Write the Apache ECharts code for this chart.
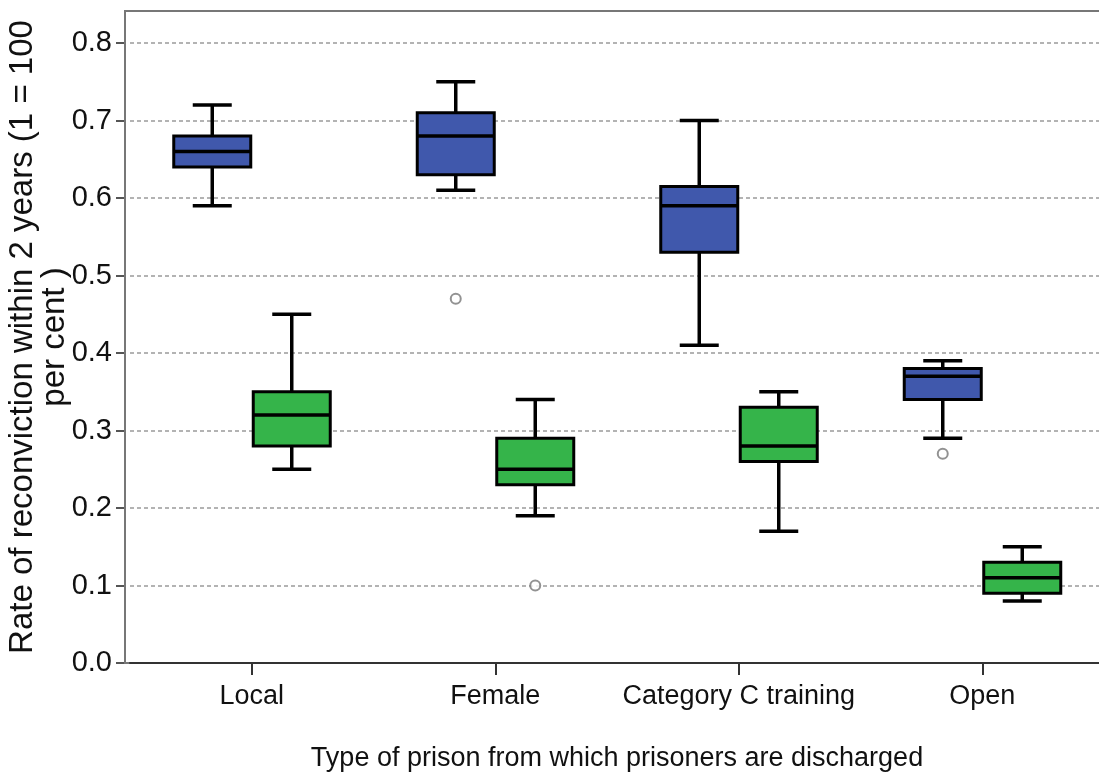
<!DOCTYPE html>
<html>
<head>
<meta charset="utf-8">
<script src="https://cdn.jsdelivr.net/npm/echarts@6/dist/echarts.min.js"></script>
<style>
html,body{margin:0;padding:0;background:#fff;}
#chart{width:1099px;height:780px;}
</style>
</head>
<body>
<div id="chart"></div>
<script>
// ---- data ----
const categories = ['Local', 'Female', 'Category C training', 'Open'];
// [min, q1, median, q3, max]
const firstGroupStats = [
  [0.59, 0.64, 0.66, 0.68, 0.72],
  [0.61, 0.63, 0.68, 0.71, 0.75],
  [0.41, 0.53, 0.59, 0.615, 0.70],
  [0.29, 0.34, 0.37, 0.38, 0.39]
];
const secondGroupStats = [
  [0.25, 0.28, 0.32, 0.35, 0.45],
  [0.19, 0.23, 0.25, 0.29, 0.34],
  [0.17, 0.26, 0.28, 0.33, 0.35],
  [0.08, 0.09, 0.11, 0.13, 0.15]
];
// [category index, value]
const firstGroupOutliers = [[1, 0.47], [3, 0.27]];
const secondGroupOutliers = [[1, 0.10]];
const yTicks = [0, 0.1, 0.2, 0.3, 0.4, 0.5, 0.6, 0.7, 0.8];

// ---- styles ----
const BLUE = '#4058ac';
const GREEN = '#35b44a';
const BOX_W = 77;
const CAP_W = 39;
const LW = 3.5;
const OFF_BLUE = -39.5;
const OFF_GREEN = 40;

function boxRenderer(offset, color) {
  return function (params, api) {
    const c = api.value(0);
    const pMin = api.coord([c, api.value(1)]);
    const pQ1 = api.coord([c, api.value(2)]);
    const pMed = api.coord([c, api.value(3)]);
    const pQ3 = api.coord([c, api.value(4)]);
    const pMax = api.coord([c, api.value(5)]);
    const cx = pMin[0] + offset;
    const ls = { stroke: '#000', lineWidth: LW };
    return {
      type: 'group',
      children: [
        { type: 'line', shape: { x1: cx, y1: pQ3[1], x2: cx, y2: pMax[1] }, style: ls },
        { type: 'line', shape: { x1: cx, y1: pQ1[1], x2: cx, y2: pMin[1] }, style: ls },
        { type: 'line', shape: { x1: cx - CAP_W / 2, y1: pMax[1], x2: cx + CAP_W / 2, y2: pMax[1] }, style: ls },
        { type: 'line', shape: { x1: cx - CAP_W / 2, y1: pMin[1], x2: cx + CAP_W / 2, y2: pMin[1] }, style: ls },
        { type: 'rect', shape: { x: cx - BOX_W / 2, y: pQ3[1], width: BOX_W, height: pQ1[1] - pQ3[1] },
          style: { fill: color, stroke: '#000', lineWidth: 3 } },
        { type: 'line', shape: { x1: cx - BOX_W / 2, y1: pMed[1], x2: cx + BOX_W / 2, y2: pMed[1] }, style: ls }
      ]
    };
  };
}

const chart = echarts.init(document.getElementById('chart'), null, { renderer: 'canvas' });
const mainFont = "'Liberation Sans', Arial, sans-serif";

chart.setOption({
  backgroundColor: '#fff',
  animation: false,
  grid: { left: 130, right: -5, top: 11, bottom: 117, containLabel: false, outerBoundsMode: 'none' },
  graphic: [{
    type: 'rect', silent: true, z: 0,
    shape: { x: 125, y: 11, width: 1000, height: 652 },
    style: { fill: 'none', stroke: '#777', lineWidth: 2 }
  }],
  xAxis: {
    type: 'category',
    data: categories,
    boundaryGap: true,
    axisLine: { show: true, lineStyle: { color: '#333', width: 2 } },
    axisTick: { show: true, alignWithLabel: true, interval: 0, length: 12, lineStyle: { color: '#333', width: 2 } },
    axisLabel: { color: '#111', fontSize: 27, fontFamily: mainFont, margin: 20, interval: 0 },
    splitLine: { show: false },
    name: 'Type of prison from which prisoners are discharged',
    nameLocation: 'middle',
    nameGap: 82,
    nameMoveOverlap: false,
    nameTextStyle: { color: '#111', fontSize: 27, fontFamily: mainFont }
  },
  yAxis: {
    type: 'value',
    min: 0,
    max: 0.8413,
    interval: 0.1,
    offset: 6,
    axisLine: { show: false },
    axisTick: { show: true, length: 8, customValues: yTicks, lineStyle: { color: '#555', width: 2 } },
    axisLabel: {
      color: '#111', fontSize: 29, fontFamily: mainFont, margin: 12,
      customValues: yTicks,
      formatter: v => v.toFixed(1)
    },
    splitLine: { show: true, lineStyle: { color: '#9a9a9a', width: 1.5, type: [4, 3] } },
    name: 'Rate of reconviction within 2 years (1 = 100\nper cent )',
    nameLocation: 'middle',
    nameGap: 53,
    nameMoveOverlap: false,
    nameRotate: 90,
    nameTextStyle: { color: '#111', fontSize: 33, lineHeight: 32, fontFamily: mainFont, align: 'center' }
  },
  series: [
    {
      type: 'custom',
      name: 'Group 1',
      renderItem: boxRenderer(OFF_BLUE, BLUE),
      encode: { x: 0, y: [1, 2, 3, 4, 5] },
      data: firstGroupStats.map((s, i) => [i].concat(s)),
      z: 3
    },
    {
      type: 'custom',
      name: 'Group 2',
      renderItem: boxRenderer(OFF_GREEN, GREEN),
      encode: { x: 0, y: [1, 2, 3, 4, 5] },
      data: secondGroupStats.map((s, i) => [i].concat(s)),
      z: 3
    },
    {
      type: 'scatter',
      name: 'Group 1 outliers',
      data: firstGroupOutliers,
      symbol: 'circle',
      symbolSize: 10,
      symbolOffset: [OFF_BLUE, 0],
      itemStyle: { color: '#fff', borderColor: '#777', borderWidth: 2 },
      z: 4
    },
    {
      type: 'scatter',
      name: 'Group 2 outliers',
      data: secondGroupOutliers,
      symbol: 'circle',
      symbolSize: 10,
      symbolOffset: [OFF_GREEN, 0],
      itemStyle: { color: '#fff', borderColor: '#777', borderWidth: 2 },
      z: 4
    }
  ]
});
</script>
</body>
</html>
